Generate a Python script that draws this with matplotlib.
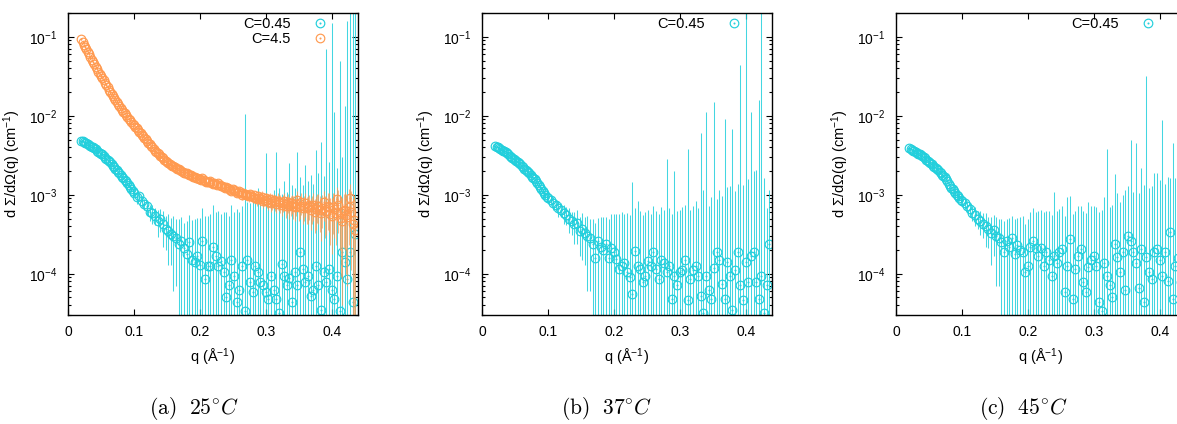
#!/usr/bin/env python3
# coding: utf-8

import matplotlib
matplotlib.use("Agg")
import matplotlib.pyplot as plt
import numpy as np
from matplotlib.path import Path
from matplotlib.ticker import LogLocator, NullFormatter, FuncFormatter

plt.rcParams["font.family"] = ["Liberation Sans", "DejaVu Sans"]
plt.rcParams["mathtext.fontset"] = "custom"
plt.rcParams["mathtext.rm"] = "Liberation Sans"
plt.rcParams["mathtext.it"] = "Liberation Sans:italic"
plt.rcParams["mathtext.bf"] = "Liberation Sans:bold"
plt.rcParams["font.size"] = 10.5

# scattering vector q (1/A) of the C=0.45 runs: fine steps at low q, coarser above 0.1
Q = [0.020, 0.022, 0.024, 0.026, 0.028, 0.030, 0.032, 0.034, 0.036, 0.038,
     0.040, 0.042, 0.044, 0.046, 0.048, 0.050, 0.052, 0.054, 0.056, 0.058,
     0.060, 0.062, 0.064, 0.066, 0.068, 0.070, 0.072, 0.074, 0.076, 0.078,
     0.080, 0.082, 0.084, 0.086, 0.088, 0.090, 0.092, 0.094, 0.096, 0.098,
     0.100, 0.104, 0.108, 0.112, 0.116, 0.120, 0.124, 0.128, 0.132, 0.136,
     0.140, 0.144, 0.148, 0.152, 0.156, 0.160, 0.164, 0.168, 0.172, 0.176,
     0.180, 0.184, 0.188, 0.192, 0.196, 0.200, 0.204, 0.208, 0.212, 0.216,
     0.220, 0.224, 0.228, 0.232, 0.236, 0.240, 0.244, 0.248, 0.252, 0.256,
     0.260, 0.264, 0.268, 0.272, 0.276, 0.280, 0.284, 0.288, 0.292, 0.296,
     0.300, 0.304, 0.308, 0.312, 0.316, 0.320, 0.324, 0.328, 0.332, 0.336,
     0.340, 0.344, 0.348, 0.352, 0.356, 0.360, 0.364, 0.368, 0.372, 0.376,
     0.380, 0.384, 0.388, 0.392, 0.396, 0.400, 0.404, 0.408, 0.412, 0.416,
     0.420, 0.424, 0.428, 0.432, 0.436]

# q of the C=4.5 run (finer binning)
Q_FINE = [0.020, 0.022, 0.024, 0.026, 0.028, 0.030, 0.032, 0.034, 0.036, 0.038,
          0.040, 0.042, 0.044, 0.046, 0.048, 0.050, 0.052, 0.054, 0.056, 0.058,
          0.060, 0.062, 0.064, 0.066, 0.068, 0.070, 0.072, 0.074, 0.076, 0.078,
          0.080, 0.082, 0.084, 0.086, 0.088, 0.090, 0.092, 0.094, 0.096, 0.098,
          0.100, 0.102, 0.104, 0.106, 0.108, 0.110, 0.112, 0.114, 0.116, 0.118,
          0.120, 0.122, 0.124, 0.126, 0.128, 0.130, 0.132, 0.134, 0.136, 0.138,
          0.140, 0.142, 0.144, 0.146, 0.148, 0.150, 0.152, 0.154, 0.156, 0.158,
          0.160, 0.162, 0.164, 0.166, 0.168, 0.170, 0.172, 0.174, 0.176, 0.178,
          0.180, 0.182, 0.184, 0.186, 0.188, 0.190, 0.192, 0.194, 0.196, 0.198,
          0.200, 0.202, 0.204, 0.206, 0.208, 0.210, 0.212, 0.214, 0.216, 0.218,
          0.220, 0.222, 0.224, 0.226, 0.228, 0.230, 0.232, 0.234, 0.236, 0.238,
          0.240, 0.242, 0.244, 0.246, 0.248, 0.250, 0.252, 0.254, 0.256, 0.258,
          0.260, 0.262, 0.264, 0.266, 0.268, 0.270, 0.272, 0.274, 0.276, 0.278,
          0.280, 0.282, 0.284, 0.286, 0.288, 0.290, 0.292, 0.294, 0.296, 0.298,
          0.300, 0.302, 0.304, 0.306, 0.308, 0.310, 0.312, 0.314, 0.316, 0.318,
          0.320, 0.322, 0.324, 0.326, 0.328, 0.330, 0.332, 0.334, 0.336, 0.338,
          0.340, 0.342, 0.344, 0.346, 0.348, 0.350, 0.352, 0.354, 0.356, 0.358,
          0.360, 0.362, 0.364, 0.366, 0.368, 0.370, 0.372, 0.374, 0.376, 0.378,
          0.380, 0.382, 0.384, 0.386, 0.388, 0.390, 0.392, 0.394, 0.396, 0.398,
          0.400, 0.402, 0.404, 0.406, 0.408, 0.410, 0.412, 0.414, 0.416, 0.418,
          0.420, 0.422, 0.424, 0.426, 0.428, 0.430, 0.432, 0.434, 0.436]

# (a) 25 C, C=0.45
I_25_low = [4.79e-3, 4.74e-3, 4.68e-3, 4.58e-3, 4.47e-3, 4.37e-3, 4.27e-3, 4.17e-3, 4.07e-3, 3.98e-3,
            3.89e-3, 3.76e-3, 3.63e-3, 3.51e-3, 3.39e-3, 3.31e-3, 3.24e-3, 3.09e-3, 2.95e-3, 2.85e-3,
            2.75e-3, 2.66e-3, 2.57e-3, 2.45e-3, 2.34e-3, 2.24e-3, 2.14e-3, 2.04e-3, 1.95e-3, 1.86e-3,
            1.78e-3, 1.70e-3, 1.62e-3, 1.55e-3, 1.48e-3, 1.40e-3, 1.32e-3, 1.25e-3, 1.17e-3, 1.11e-3,
            1.05e-3, 9.3e-4, 9.5e-4, 8.3e-4, 7.6e-4, 7.1e-4, 6.0e-4, 5.8e-4, 5.4e-4, 4.7e-4,
            5.0e-4, 4.2e-4, 3.7e-4, 3.5e-4, 3.2e-4, 3.0e-4, 2.8e-4, 2.4e-4, 2.6e-4, 2.1e-4,
            1.8e-4, 2.5e-4, 1.5e-4, 1.4e-4, 1.7e-4, 1.3e-4, 2.6e-4, 8.5e-5, 1.26e-4, 1.26e-4,
            2.19e-4, 1.66e-4, 1.26e-4, 1.45e-4, 1.05e-4, 5.0e-5, 7.1e-5, 1.51e-4, 9.3e-5, 4.4e-5,
            6.3e-5, 1.26e-4, 3.4e-5, 1.51e-4, 7.9e-5, 5.9e-5, 1.26e-4, 1.05e-4, 7.9e-5, 7.1e-5,
            5.9e-5, 4.8e-5, 9.3e-5, 6.3e-5, 4.8e-5, 3.2e-5, 1.32e-4, 9.3e-5, 7.1e-5, 8.9e-5,
            4.4e-5, 1.05e-4, 7.1e-5, 1.86e-4, 1.15e-4, 7.9e-5, 9.3e-5, 5.2e-5, 6.3e-5, 1.26e-4,
            7.1e-5, 3.5e-5, 1.05e-4, 7.9e-5, 1.15e-4, 6.3e-5, 4.8e-5, 9.3e-5, 3.4e-5, 1.86e-4,
            1.41e-4, 8.5e-5, 1.86e-4, 4.4e-5, 3.2e-4]
dI_25_low = [4e-5, 4e-5, 4e-5, 4e-5, 4e-5, 4e-5, 4e-5, 4e-5, 4e-5, 4e-5,
             4e-5, 4e-5, 4e-5, 4e-5, 4e-5, 4e-5, 4e-5, 4e-5, 4e-5, 4e-5,
             4e-5, 4e-5, 4e-5, 4e-5, 4e-5, 4e-5, 4e-5, 4e-5, 4e-5, 4e-5,
             4e-5, 4e-5, 5e-5, 5e-5, 6e-5, 7e-5, 8e-5, 9e-5, 1.0e-4, 1.1e-4,
             1.2e-4, 1.6e-4, 1.0e-4, 1.4e-4, 1.2e-4, 1.5e-4, 1.4e-4, 1.6e-4, 1.3e-4, 1.8e-4,
             1.6e-4, 2.0e-4, 1.7e-4, 2.2e-4, 1.9e-4, 2.4e-4, 2.1e-4, 2.5e-4, 2.7e-4, 2.3e-4,
             2.9e-4, 3.1e-4, 3.3e-4, 3.6e-4, 3.4e-4, 3.8e-4, 4.2e-4, 4.5e-4, 4.1e-4, 4.5e-4,
             5.2e-4, 4.4e-4, 4.9e-4, 4.3e-4, 5.0e-4, 5.5e-4, 4.7e-4, 5.8e-4, 5.1e-4, 6.2e-4,
             5.5e-4, 6.0e-4, 0.0105, 6.5e-4, 7.0e-4, 9.0e-4, 7.5e-4, 1.1e-3, 6.8e-4, 8.5e-4,
             3.3e-3, 9.5e-4, 8.0e-4, 1.1e-3, 3.4e-3, 1.2e-3, 9.0e-4, 1.4e-3, 1.0e-3, 2.4e-3,
             1.3e-3, 1.1e-3, 3.4e-3, 1.5e-3, 1.2e-3, 2.3e-3, 1.4e-3, 1.7e-3, 1.3e-3, 3.6e-3,
             1.8e-3, 4.6e-3, 1.6e-3, 0.070, 2.5e-3, 0.15, 0.011, 2.1e-3, 0.050, 2.8e-3,
             0.013, 0.16, 0.30, 0.30, 0.20]

# (a) 25 C, C=4.5 (on Q_FINE)
I_25_high = [0.0933, 0.0862, 0.0794, 0.0741, 0.0692, 0.0646, 0.0603, 0.0556, 0.0513, 0.0479,
             0.0447, 0.0417, 0.0389, 0.0363, 0.0339, 0.0320, 0.0302, 0.0282, 0.0263, 0.0245,
             0.0229, 0.0214, 0.0200, 0.0189, 0.0178, 0.0168, 0.0158, 0.0149, 0.0141, 0.0133,
             0.0126, 0.0119, 0.0112, 0.0107, 0.0102, 0.00964, 0.00912, 0.00871, 0.00832, 0.00794,
             0.00759, 0.00724, 0.00692, 0.00661, 0.00631, 0.00603, 0.00575, 0.00550, 0.00525, 0.00501,
             0.00479, 0.00457, 0.00437, 0.00417, 0.00398, 0.00380, 0.00363, 0.00351, 0.00339, 0.00324,
             0.00309, 0.00298, 0.00288, 0.00278, 0.00269, 0.00260, 0.00251, 0.00245, 0.00240, 0.00234,
             0.00229, 0.00224, 0.00219, 0.00214, 0.00209, 0.00204, 0.00200, 0.00196, 0.00191, 0.00189,
             0.00186, 0.00181, 0.00178, 0.00176, 0.00174, 0.00170, 0.00166, 0.00164, 0.00162, 0.00160,
             0.00158, 0.00155, 0.00161, 0.00152, 0.00150, 0.00146, 0.00147, 0.00143, 0.00149, 0.00141,
             0.00138, 0.00141, 0.00136, 0.00133, 0.00140, 0.00131, 0.00128, 0.00130, 0.00127, 0.00122,
             0.00124, 0.00120, 0.00118, 0.00116, 0.00113, 0.00119, 0.00115, 0.00110, 0.00106, 0.00109,
             0.00110, 0.00104, 0.00100, 0.00106, 0.00103, 0.00099, 0.00098, 0.00095, 0.00101, 0.00097,
             0.00094, 0.00099, 0.00092, 0.00089, 0.00097, 0.00091, 0.00088, 0.00093, 0.00084, 0.00087,
             0.00090, 0.00085, 0.00082, 0.00088, 0.00079, 0.00083, 0.00086, 0.00080, 0.00077, 0.00084,
             0.00081, 0.00078, 0.00074, 0.00079, 0.00083, 0.00072, 0.00076, 0.00080, 0.00071, 0.00075,
             0.00078, 0.00073, 0.00069, 0.00076, 0.00086, 0.00070, 0.00073, 0.00081, 0.00067, 0.00071,
             0.00079, 0.00068, 0.00070, 0.00074, 0.00064, 0.00069, 0.00075, 0.00061, 0.00066, 0.00073,
             0.00072, 0.00065, 0.00058, 0.00068, 0.00080, 0.00062, 0.00063, 0.00071, 0.00070, 0.00057,
             0.00054, 0.00069, 0.00066, 0.00059, 0.00088, 0.00074, 0.00060, 0.00051, 0.00047, 0.00062,
             0.00064, 0.00056, 0.00052, 0.00070, 0.00090, 0.00061, 0.00043, 0.00048, 0.00036]
dI_25_high = [1.4e-3, 1.3e-3, 1.2e-3, 1.1e-3, 1.0e-3, 9.5e-4, 9.0e-4, 8.5e-4, 8.0e-4, 7.5e-4,
              7.0e-4, 6.5e-4, 6.0e-4, 5.5e-4, 5.0e-4, 4.8e-4, 4.5e-4, 4.2e-4, 4.0e-4, 3.7e-4,
              3.5e-4, 3.2e-4, 3.0e-4, 2.8e-4, 2.7e-4, 2.5e-4, 2.4e-4, 2.2e-4, 2.1e-4, 2.0e-4,
              1.9e-4, 1.8e-4, 1.7e-4, 1.6e-4, 1.5e-4, 1.5e-4, 1.4e-4, 1.4e-4, 1.3e-4, 1.3e-4,
              1.2e-4, 1.2e-4, 1.1e-4, 1.1e-4, 1.0e-4, 1.0e-4, 1.0e-4, 9e-5, 9e-5, 9e-5,
              9e-5, 8e-5, 8e-5, 8e-5, 8e-5, 8e-5, 8e-5, 7e-5, 7e-5, 7e-5,
              7e-5, 7e-5, 7e-5, 7e-5, 7e-5, 7e-5, 7e-5, 7e-5, 7e-5, 7e-5,
              7e-5, 7e-5, 7e-5, 7e-5, 7e-5, 7e-5, 7e-5, 7e-5, 7e-5, 7e-5,
              7e-5, 7e-5, 7e-5, 7e-5, 7e-5, 7e-5, 7e-5, 7e-5, 7e-5, 7e-5,
              7e-5, 8e-5, 8e-5, 9e-5, 9e-5, 8e-5, 8e-5, 9e-5, 9e-5, 1.0e-4,
              1.0e-4, 9e-5, 9e-5, 1.0e-4, 1.0e-4, 1.1e-4, 1.0e-4, 1.1e-4, 1.1e-4, 1.0e-4,
              1.0e-4, 1.2e-4, 1.1e-4, 1.1e-4, 1.2e-4, 1.1e-4, 1.2e-4, 1.3e-4, 1.2e-4, 1.2e-4,
              1.3e-4, 1.2e-4, 1.3e-4, 1.4e-4, 1.2e-4, 1.4e-4, 1.4e-4, 1.3e-4, 1.5e-4, 1.4e-4,
              1.5e-4, 1.4e-4, 1.4e-4, 1.6e-4, 1.6e-4, 1.5e-4, 1.5e-4, 1.7e-4, 1.7e-4, 1.6e-4,
              1.6e-4, 1.8e-4, 1.7e-4, 1.7e-4, 1.8e-4, 1.9e-4, 1.7e-4, 1.8e-4, 1.9e-4, 2.0e-4,
              1.8e-4, 2.0e-4, 2.0e-4, 1.9e-4, 2.1e-4, 2.1e-4, 2.0e-4, 2.2e-4, 2.2e-4, 2.1e-4,
              2.1e-4, 2.3e-4, 2.3e-4, 2.2e-4, 2.4e-4, 2.4e-4, 2.3e-4, 2.5e-4, 2.5e-4, 2.4e-4,
              2.6e-4, 2.5e-4, 2.7e-4, 2.6e-4, 2.8e-4, 2.7e-4, 2.9e-4, 2.8e-4, 3.0e-4, 2.9e-4,
              3.0e-4, 3.1e-4, 3.2e-4, 3.0e-4, 3.3e-4, 3.4e-4, 3.2e-4, 3.5e-4, 3.6e-4, 3.4e-4,
              3.6e-4, 3.7e-4, 3.8e-4, 3.6e-4, 3.9e-4, 4.1e-4, 4.0e-4, 4.2e-4, 4.3e-4, 4.1e-4,
              4.4e-4, 4.6e-4, 4.5e-4, 4.7e-4, 4.8e-4, 5.0e-4, 4.9e-4, 5.0e-4, 5.0e-4]

# (b) 37 C, C=0.45
I_37 = [4.17e-3, 4.07e-3, 3.98e-3, 3.89e-3, 3.80e-3, 3.71e-3, 3.63e-3, 3.55e-3, 3.47e-3, 3.35e-3,
        3.24e-3, 3.13e-3, 3.02e-3, 2.92e-3, 2.82e-3, 2.75e-3, 2.69e-3, 2.60e-3, 2.51e-3, 2.42e-3,
        2.34e-3, 2.24e-3, 2.14e-3, 2.07e-3, 2.00e-3, 1.93e-3, 1.86e-3, 1.78e-3, 1.70e-3, 1.64e-3,
        1.58e-3, 1.49e-3, 1.41e-3, 1.33e-3, 1.26e-3, 1.18e-3, 1.10e-3, 1.04e-3, 9.8e-4, 9.4e-4,
        9.1e-4, 8.5e-4, 7.9e-4, 7.4e-4, 6.8e-4, 6.5e-4, 5.9e-4, 5.5e-4, 5.0e-4, 4.6e-4,
        4.2e-4, 4.4e-4, 3.5e-4, 3.7e-4, 3.3e-4, 3.0e-4, 2.8e-4, 2.4e-4, 1.6e-4, 2.6e-4,
        2.2e-4, 2.0e-4, 2.4e-4, 1.6e-4, 2.1e-4, 1.86e-4, 1.55e-4, 1.15e-4, 1.26e-4, 1.38e-4,
        1.05e-4, 9.1e-5, 5.5e-5, 1.95e-4, 1.26e-4, 1.15e-4, 7.9e-5, 9.3e-5, 1.45e-4, 1.26e-4,
        1.86e-4, 1.15e-4, 8.5e-5, 1.51e-4, 1.38e-4, 1.05e-4, 1.26e-4, 4.8e-5, 9.3e-5, 7.1e-5,
        1.05e-4, 1.12e-4, 1.51e-4, 4.6e-5, 8.5e-5, 1.10e-4, 1.26e-4, 9.3e-5, 5.2e-5, 3.2e-5,
        9.3e-5, 6.3e-5, 4.8e-5, 1.17e-4, 1.86e-4, 1.51e-4, 7.4e-5, 4.8e-5, 1.41e-4, 9.3e-5,
        3.5e-5, 1.12e-4, 1.86e-4, 7.1e-5, 4.6e-5, 1.41e-4, 7.9e-5, 1.66e-4, 1.86e-4, 7.9e-5,
        4.8e-5, 9.3e-5, 3.2e-5, 7.1e-5, 2.4e-4]
dI_37 = [3e-5, 3e-5, 3e-5, 3e-5, 3e-5, 3e-5, 3e-5, 3e-5, 3e-5, 3e-5,
         3e-5, 3e-5, 3e-5, 3e-5, 3e-5, 3e-5, 3e-5, 3e-5, 3e-5, 3e-5,
         3e-5, 3e-5, 3e-5, 3e-5, 3e-5, 3e-5, 3e-5, 3e-5, 3e-5, 3e-5,
         3e-5, 4e-5, 4e-5, 5e-5, 5e-5, 6e-5, 7e-5, 8e-5, 9e-5, 1.0e-4,
         1.2e-4, 1.0e-4, 1.4e-4, 1.1e-4, 1.5e-4, 1.3e-4, 1.6e-4, 1.4e-4, 1.7e-4, 1.5e-4,
         1.8e-4, 2.0e-4, 1.8e-4, 2.2e-4, 2.0e-4, 2.4e-4, 2.2e-4, 2.6e-4, 2.8e-4, 2.5e-4,
         3.0e-4, 3.2e-4, 2.9e-4, 3.4e-4, 3.6e-4, 3.8e-4, 4.2e-4, 4.5e-4, 4.7e-4, 4.4e-4,
         4.9e-4, 4.6e-4, 1.4e-3, 4.8e-4, 7.0e-4, 5.0e-4, 4.7e-4, 5.2e-4, 4.9e-4, 4.5e-4,
         5.3e-4, 5.0e-4, 4.8e-4, 5.4e-4, 5.0e-4, 2.7e-3, 5.5e-4, 5.2e-4, 1.9e-3, 5.6e-4,
         5.3e-4, 5.8e-4, 6.0e-4, 3.8e-3, 5.5e-4, 6.2e-4, 7.0e-4, 5.8e-4, 6.0e-3, 1.1e-3,
         0.011, 6.5e-4, 9.0e-4, 0.015, 7.0e-4, 1.0e-3, 9.0e-4, 9.0e-3, 1.1e-3, 1.2e-3,
         6.8e-3, 1.0e-3, 1.2e-3, 0.044, 1.3e-3, 0.30, 1.5e-3, 0.011, 1.8e-3, 2.0e-3,
         0.016, 0.30, 1.6e-3, 6.0e-4, 9.0e-4]

# (c) 45 C, C=0.45
I_45 = [3.89e-3, 3.80e-3, 3.72e-3, 3.63e-3, 3.55e-3, 3.47e-3, 3.39e-3, 3.31e-3, 3.24e-3, 3.16e-3,
        3.09e-3, 2.98e-3, 2.88e-3, 2.78e-3, 2.69e-3, 2.60e-3, 2.51e-3, 2.42e-3, 2.34e-3, 2.26e-3,
        2.19e-3, 2.11e-3, 2.04e-3, 1.95e-3, 1.86e-3, 1.80e-3, 1.74e-3, 1.66e-3, 1.58e-3, 1.48e-3,
        1.38e-3, 1.30e-3, 1.23e-3, 1.17e-3, 1.12e-3, 1.06e-3, 1.00e-3, 9.5e-4, 9.1e-4, 8.7e-4,
        8.3e-4, 7.8e-4, 7.1e-4, 6.6e-4, 5.9e-4, 5.5e-4, 5.0e-4, 4.7e-4, 4.3e-4, 4.0e-4,
        3.7e-4, 3.3e-4, 3.6e-4, 3.0e-4, 2.8e-4, 2.5e-4, 1.9e-4, 2.6e-4, 2.2e-4, 2.8e-4,
        1.8e-4, 2.3e-4, 2.0e-4, 1.86e-4, 1.05e-4, 1.26e-4, 2.2e-4, 2.6e-4, 2.1e-4, 1.7e-4,
        2.1e-4, 1.26e-4, 1.86e-4, 1.51e-4, 9.3e-5, 1.7e-4, 1.38e-4, 1.86e-4, 2.04e-4, 5.8e-5,
        1.26e-4, 2.75e-4, 4.8e-5, 1.15e-4, 1.7e-4, 2.04e-4, 7.8e-5, 5.8e-5, 1.2e-4, 1.51e-4,
        1.7e-4, 1.26e-4, 4.4e-5, 3.4e-5, 1.38e-4, 9.3e-5, 7.1e-5, 5.1e-5, 2.4e-4, 1.62e-4,
        1.05e-4, 1.86e-4, 6.3e-5, 3.0e-4, 2.6e-4, 1.86e-4, 1.38e-4, 6.6e-5, 2.04e-4, 4.4e-5,
        1.62e-4, 1.05e-4, 8.5e-5, 1.86e-4, 2.04e-4, 1.51e-4, 9.3e-5, 1.86e-4, 8.1e-5, 3.4e-4,
        4.8e-5, 1.26e-4, 1.58e-4, 7.9e-5, 1.41e-4]
dI_45 = [3e-5, 3e-5, 3e-5, 3e-5, 3e-5, 3e-5, 3e-5, 3e-5, 3e-5, 3e-5,
         3e-5, 3e-5, 3e-5, 3e-5, 3e-5, 3e-5, 3e-5, 3e-5, 3e-5, 3e-5,
         3e-5, 3e-5, 3e-5, 3e-5, 3e-5, 3e-5, 3e-5, 3e-5, 3e-5, 3e-5,
         3e-5, 4e-5, 4e-5, 5e-5, 5e-5, 6e-5, 7e-5, 7e-5, 8e-5, 9e-5,
         1.0e-4, 1.2e-4, 1.0e-4, 1.3e-4, 1.2e-4, 1.5e-4, 1.3e-4, 1.6e-4, 1.5e-4, 1.8e-4,
         1.6e-4, 2.0e-4, 1.9e-4, 2.3e-4, 2.1e-4, 2.5e-4, 2.7e-4, 2.4e-4, 2.9e-4, 2.6e-4,
         3.1e-4, 2.8e-4, 3.3e-4, 3.5e-4, 3.2e-4, 3.7e-4, 3.8e-4, 4.2e-4, 4.0e-4, 4.5e-4,
         4.3e-4, 4.7e-4, 4.4e-4, 4.8e-4, 4.6e-4, 9.0e-4, 4.9e-4, 4.7e-4, 5.1e-4, 4.8e-4,
         8.0e-4, 7.0e-4, 5.2e-4, 5.0e-4, 5.4e-4, 5.1e-4, 5.5e-4, 5.3e-4, 7.0e-4, 5.6e-4,
         5.4e-4, 5.8e-4, 5.6e-4, 6.0e-4, 8.0e-4, 3.7e-3, 6.2e-4, 7.0e-4, 1.6e-3, 9.0e-4,
         7.0e-4, 8.0e-4, 1.1e-3, 1.0e-3, 4.6e-3, 9.0e-4, 4.4e-3, 1.0e-3, 2.0e-3, 1.3e-3,
         0.032, 1.1e-3, 1.2e-3, 1.7e-3, 1.7e-3, 1.4e-3, 8.8e-3, 1.2e-3, 1.6e-3, 1.3e-3,
         4.5e-3, 1.5e-3, 2.0e-3, 1.8e-3, 2.2e-3]

CYAN = "#22cfdc"
ORANGE = "#ff9a50"

panels = [
    ("(a)", "25", [(Q, I_25_low, dI_25_low, CYAN, "C=0.45", 0.85),
                   (Q_FINE, I_25_high, dI_25_high, ORANGE, "C=4.5", 0.7)]),
    ("(b)", "37", [(Q, I_37, dI_37, CYAN, "C=0.45", 0.85)]),
    ("(c)", "45", [(Q, I_45, dI_45, CYAN, "C=0.45", 0.85)]),
]

# circle with a small dot in the middle, like the gnuplot point
ring = Path.make_compound_path(Path.unit_circle(), Path.circle((0, 0), 0.1))

my_dpi = 100
fig = plt.figure(figsize=(1177 / my_dpi, 424 / my_dpi), dpi=my_dpi)

lefts = [68, 482, 896]
caption_x = [194, 607, 1023]

for (tag, temp, series), left, cx in zip(panels, lefts, caption_x):
    ax = fig.add_axes([left / 1177, 109 / 424, 290 / 1177, 302 / 424])
    for qq, I, dI, color, label, bar_alpha in series:
        qq = np.array(qq)
        I = np.array(I)
        dI = np.array(dI)
        lower = np.clip(I - dI, 1e-7, None)
        ax.errorbar(qq, I, yerr=[I - lower, dI], fmt="none", ecolor=color,
                    elinewidth=0.75, alpha=bar_alpha, capsize=0)
        ax.plot(qq, I, linestyle="none", marker=ring, ms=6.2, mfc="none",
                mec=color, mew=0.85, label=label)

    ax.set_yscale("log")
    ax.set_ylim(3e-5, 0.2)
    ax.set_xlim(0, 0.44)
    ax.set_xticks([0, 0.1, 0.2, 0.3, 0.4])
    ax.xaxis.set_major_formatter(FuncFormatter(lambda v, p: "{:g}".format(v)))
    ax.yaxis.set_major_locator(LogLocator(base=10, numticks=10))
    ax.yaxis.set_minor_locator(LogLocator(base=10, subs=np.arange(2, 10), numticks=20))
    ax.yaxis.set_minor_formatter(NullFormatter())
    ax.tick_params(which="both", direction="in", top=True, right=True, width=0.8)
    ax.tick_params(which="major", length=4.5, labelsize=10)
    ax.tick_params(which="minor", length=2.5)
    ax.tick_params(axis="y", pad=8)
    ax.tick_params(axis="x", pad=7)
    for s in ax.spines.values():
        s.set_linewidth(1.0)

    ax.set_xlabel("q (Å$^{-1}$)", labelpad=6)
    ax.set_ylabel("d Σ/dΩ(q) (cm$^{-1}$)", labelpad=4)

    ax.legend(loc="upper right", bbox_to_anchor=(0.949, 0.987), frameon=False,
              markerfirst=False, handlelength=3.2, handletextpad=0.4,
              borderpad=0, borderaxespad=0, labelspacing=0.05)

    fig.text(cx / 1177, 1 - 408 / 424, r"$\mathrm{" + tag + r"}\ \ " + temp + r"^{\circ}C$",
             ha="center", va="center", fontsize=15.5, math_fontfamily="cm")

plt.savefig("out.png", dpi=my_dpi)
plt.close("all")
